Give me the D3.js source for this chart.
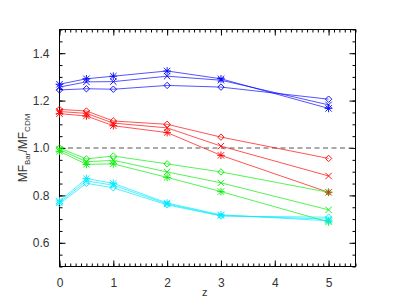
<!DOCTYPE html>
<html>
<head>
<meta charset="utf-8">
<script src="https://cdn.jsdelivr.net/npm/d3@7"></script>
<style>
  body { margin: 0; background: #fff; }
  svg { display: block; font-family: "Liberation Sans", Arial, sans-serif; }
  .axis path { display: none; }
  .axis line { stroke: #000; }
  .axis text { fill: #333; font-size: 12px; }
</style>
</head>
<body>
<div id="chart"></div>
<script>
const zValues = [0, 0.5, 1, 2, 3, 5];

const blueDiamond = [1.245, 1.250, 1.248, 1.264, 1.257, 1.206];
const blueCross = [1.257, 1.279, 1.280, 1.303, 1.286, 1.182];
const blueStar = [1.269, 1.292, 1.303, 1.325, 1.292, 1.167];

const redDiamond = [1.163, 1.156, 1.114, 1.100, 1.046, 0.956];
const redCross = [1.154, 1.146, 1.105, 1.085, 1.008, 0.882];
const redStar = [1.145, 1.135, 1.094, 1.065, 0.969, 0.813];

const greenDiamond = [1.000, 0.954, 0.966, 0.933, 0.899, 0.813];
const greenCross = [0.994, 0.942, 0.948, 0.899, 0.853, 0.739];
const greenStar = [0.986, 0.931, 0.933, 0.876, 0.816, 0.688];

const cyanDiamond = [0.765, 0.851, 0.832, 0.760, 0.713, 0.708];
const cyanCross = [0.770, 0.861, 0.843, 0.764, 0.715, 0.700];
const cyanStar = [0.776, 0.871, 0.851, 0.768, 0.718, 0.693];

const xTicks = [0, 1, 2, 3, 4, 5];
const yTicks = [0.6, 0.8, 1.0, 1.2, 1.4];

const series = [
  { color: "#0000ff", marker: "diamond", values: blueDiamond },
  { color: "#0000ff", marker: "cross", values: blueCross },
  { color: "#0000ff", marker: "star", values: blueStar },
  { color: "#ff0000", marker: "diamond", values: redDiamond },
  { color: "#ff0000", marker: "cross", values: redCross },
  { color: "#ff0000", marker: "star", values: redStar },
  { color: "#00ee00", marker: "diamond", values: greenDiamond },
  { color: "#00ee00", marker: "cross", values: greenCross },
  { color: "#00ee00", marker: "star", values: greenStar },
  { color: "#00e8ff", marker: "diamond", values: cyanDiamond },
  { color: "#00e8ff", marker: "cross", values: cyanCross },
  { color: "#00e8ff", marker: "star", values: cyanStar },
];

const width = 415;
const height = 297;
const margin = { top: 29.5, right: 59.5, bottom: 30.5, left: 59.5 };
const innerW = width - margin.left - margin.right;
const innerH = height - margin.top - margin.bottom;

const svg = d3.select("#chart").append("svg")
  .attr("width", width)
  .attr("height", height);

const g = svg.append("g")
  .attr("transform", `translate(${margin.left},${margin.top})`);

const x = d3.scaleLinear().domain([0, 5.5]).range([0, innerW]);
const y = d3.scaleLinear().domain([0.5, 1.5]).range([innerH, 0]);

const xMinor = d3.range(0, 5.51, 0.1);
const yMinor = d3.range(0.5, 1.501, 0.05);

// minor ticks on all four sides
g.append("g").attr("class", "axis").attr("transform", `translate(0,${innerH})`)
  .call(d3.axisBottom(x).tickValues(xMinor).tickSize(-3).tickFormat(""));
g.append("g").attr("class", "axis")
  .call(d3.axisTop(x).tickValues(xMinor).tickSize(-3).tickFormat(""));
g.append("g").attr("class", "axis")
  .call(d3.axisLeft(y).tickValues(yMinor).tickSize(-3).tickFormat(""));
g.append("g").attr("class", "axis").attr("transform", `translate(${innerW},0)`)
  .call(d3.axisRight(y).tickValues(yMinor).tickSize(-3).tickFormat(""));

// major ticks
g.append("g").attr("class", "axis").attr("transform", `translate(0,${innerH})`)
  .call(d3.axisBottom(x).tickValues(xTicks).tickSize(-6).tickPadding(12).tickFormat(d3.format("d")));
g.append("g").attr("class", "axis")
  .call(d3.axisTop(x).tickValues(xTicks).tickSize(-6).tickFormat(""));
g.append("g").attr("class", "axis")
  .call(d3.axisLeft(y).tickValues(yTicks).tickSize(-6).tickPadding(10).tickFormat(d3.format(".1f")));
g.append("g").attr("class", "axis").attr("transform", `translate(${innerW},0)`)
  .call(d3.axisRight(y).tickValues(yTicks).tickSize(-6).tickFormat(""));

g.append("rect")
  .attr("width", innerW).attr("height", innerH)
  .attr("fill", "none").attr("stroke", "#000");

// reference line at 1
g.append("line")
  .attr("x1", 0).attr("x2", innerW)
  .attr("y1", y(1)).attr("y2", y(1))
  .attr("stroke", "#555").attr("stroke-dasharray", "5,3.5");

const line = d3.line().x((d, i) => x(zValues[i])).y(d => y(d));

const s = 3.2;
function markerPath(m) {
  if (m === "diamond") return `M0,${-s}L${s},0L0,${s}L${-s},0Z`;
  if (m === "cross") return `M${-s},${-s}L${s},${s}M${-s},${s}L${s},${-s}`;
  return `M${-s},${-s}L${s},${s}M${-s},${s}L${s},${-s}M0,${-s * 1.2}L0,${s * 1.2}M${-s * 1.2},0L${s * 1.2},0`;
}

series.forEach(sr => {
  const grp = g.append("g");
  grp.append("path")
    .attr("d", line(sr.values))
    .attr("fill", "none")
    .attr("stroke", sr.color)
    .attr("stroke-width", 0.9)
    .attr("stroke-opacity", 0.75);
  grp.selectAll("path.mk")
    .data(sr.values)
    .join("path")
    .attr("class", "mk")
    .attr("transform", (d, i) => `translate(${x(zValues[i])},${y(d)})`)
    .attr("d", markerPath(sr.marker))
    .attr("fill", "none")
    .attr("stroke", sr.color)
    .attr("stroke-width", 0.9);
});

// axis titles
svg.append("text")
  .attr("x", margin.left + x(2.7)).attr("y", 296)
  .attr("text-anchor", "middle")
  .attr("fill", "#333").attr("font-size", 11)
  .text("z");

const yl = svg.append("text")
  .attr("transform", `translate(27,${margin.top + innerH / 2}) rotate(-90)`)
  .attr("text-anchor", "middle")
  .attr("fill", "#333").attr("font-size", 12);
yl.append("tspan").text("MF");
yl.append("tspan").attr("font-size", 8).attr("dy", 3).text("Bar");
yl.append("tspan").attr("dy", -3).text("/MF");
yl.append("tspan").attr("font-size", 8).attr("dy", 3).text("CDM");
</script>
</body>
</html>
